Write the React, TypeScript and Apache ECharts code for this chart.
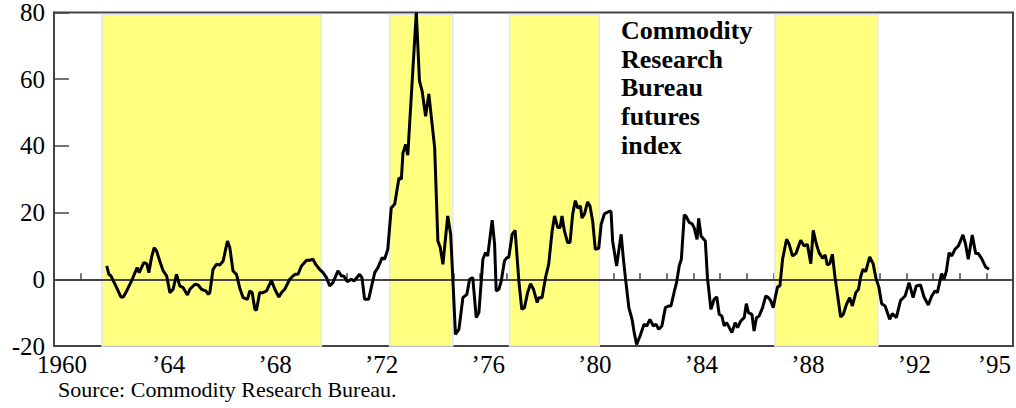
import React, { useEffect, useRef } from "react";
import * as echarts from "echarts";

const dates = [
  1961.98, 1962.06, 1962.14, 1962.22, 1962.35, 1962.51, 1962.6, 1962.73, 1962.91, 1963.04,
  1963.12, 1963.2, 1963.37, 1963.48, 1963.56, 1963.66, 1963.76, 1963.85, 1963.97, 1964.1,
  1964.23, 1964.35, 1964.47, 1964.6, 1964.72, 1964.85, 1965.01, 1965.1, 1965.29, 1965.41,
  1965.54, 1965.7, 1965.79, 1965.85, 1965.97, 1966.1, 1966.22, 1966.35, 1966.51, 1966.6,
  1966.72, 1966.85, 1966.97, 1967.1, 1967.26, 1967.35, 1967.44, 1967.54, 1967.6, 1967.72,
  1967.85, 1967.98, 1968.16, 1968.29, 1968.44, 1968.54, 1968.66, 1968.85, 1968.97, 1969.06,
  1969.16, 1969.29, 1969.48, 1969.6, 1969.72, 1969.82, 1969.97, 1970.1, 1970.23, 1970.35,
  1970.47, 1970.66, 1970.79, 1970.88, 1971.01, 1971.16, 1971.26, 1971.35, 1971.47, 1971.56,
  1971.66, 1971.81, 1971.91, 1972.04, 1972.16, 1972.32, 1972.41, 1972.53, 1972.66, 1972.79,
  1972.95, 1973.04, 1973.1, 1973.2, 1973.28, 1973.6, 1973.72, 1973.82, 1973.95, 1974.07,
  1974.29, 1974.41, 1974.5, 1974.6, 1974.78, 1974.89, 1974.97, 1975.07, 1975.2, 1975.35,
  1975.5, 1975.6, 1975.72, 1975.85, 1975.95, 1976.1, 1976.2, 1976.28, 1976.45, 1976.54,
  1976.6, 1976.7, 1976.79, 1976.91, 1977.0, 1977.07, 1977.2, 1977.31, 1977.45, 1977.56,
  1977.66, 1977.78, 1977.89, 1978.0, 1978.14, 1978.2, 1978.32, 1978.45, 1978.57, 1978.7,
  1978.79, 1978.91, 1979.0, 1979.07, 1979.16, 1979.28, 1979.37, 1979.47, 1979.57, 1979.66,
  1979.76, 1979.82, 1979.91, 1980.03, 1980.12, 1980.22, 1980.32, 1980.45, 1980.54, 1980.66,
  1980.85, 1980.91, 1980.97, 1981.12, 1981.29, 1981.37, 1981.45, 1981.58, 1981.7, 1981.78,
  1981.87, 1982.0, 1982.15, 1982.25, 1982.37, 1982.5, 1982.6, 1982.7, 1982.82, 1982.95,
  1983.07, 1983.16, 1983.29, 1983.37, 1983.47, 1983.55, 1983.66, 1983.72, 1983.85, 1983.95,
  1984.03, 1984.14, 1984.2, 1984.29, 1984.45, 1984.53, 1984.66, 1984.78, 1984.88, 1984.97,
  1985.07, 1985.16, 1985.25, 1985.35, 1985.45, 1985.57, 1985.66, 1985.78, 1985.91, 1985.99,
  1986.07, 1986.2, 1986.28, 1986.37, 1986.47, 1986.6, 1986.72, 1986.82, 1986.91, 1987.0,
  1987.1, 1987.16, 1987.25, 1987.35, 1987.5, 1987.6, 1987.72, 1987.85, 1988.03, 1988.16,
  1988.28, 1988.41, 1988.5, 1988.62, 1988.72, 1988.85, 1988.95, 1989.03, 1989.12, 1989.22,
  1989.32, 1989.41, 1989.53, 1989.63, 1989.75, 1989.87, 1989.97, 1990.1, 1990.2, 1990.28,
  1990.37, 1990.47, 1990.62, 1990.75, 1990.85, 1990.97, 1991.07, 1991.2, 1991.37, 1991.47,
  1991.62, 1991.78, 1991.95, 1992.1, 1992.25, 1992.37, 1992.53, 1992.66, 1992.82, 1992.95,
  1993.07, 1993.16, 1993.32, 1993.41, 1993.5, 1993.6, 1993.7, 1993.82, 1993.95, 1994.12,
  1994.22, 1994.32, 1994.47, 1994.6, 1994.7, 1994.82, 1994.97, 1995.1,
];

const values = [
  4.0, 1.5, 1.0, -0.3, -2.5, -5.3, -5.3, -3.5, -0.5, 2.0,
  3.5, 2.0, 5.0, 4.7, 2.0, 6.5, 9.5, 8.5, 5.5, 2.5,
  1.0, -4.0, -3.0, 1.5, -2.0, -2.5, -4.7, -3.0, -1.5, -1.7,
  -3.0, -3.5, -4.5, -4.0, 3.0, 4.5, 4.3, 5.5, 11.5, 9.5,
  2.5, 1.5, -2.5, -5.5, -6.0, -3.5, -4.0, -9.0, -9.3, -4.0,
  -4.0, -3.5, -0.3, -3.0, -5.3, -4.0, -3.0, 0.0, 1.0, 1.5,
  1.5, 4.0, 5.7, 5.7, 6.0, 4.5, 3.0, 2.0, 0.5, -2.0,
  -1.0, 2.5, 1.0, 1.0, -0.7, 0.0, -0.5, 0.3, 1.5, 0.5,
  -6.0, -6.0, -2.5, 2.0, 3.5, 6.5, 6.0, 9.0, 21.4, 22.6,
  30.4, 30.0, 37.9, 40.4, 37.2, 80.0, 59.4, 56.4, 48.9, 55.6,
  39.4, 11.5, 9.5, 4.5, 19.0, 13.5, 0.5, -16.5, -15.0, -5.5,
  -4.5, 0.0, 0.5, -11.5, -10.0, 6.0, 8.0, 7.0, 17.7, 10.5,
  -3.5, -3.0, -0.5, 5.5, 6.5, 6.5, 13.5, 14.7, -0.5, -9.0,
  -8.5, -4.0, -1.3, -3.0, -7.0, -5.5, -5.5, 0.5, 4.5, 14.5,
  19.0, 15.5, 15.5, 19.0, 14.5, 11.0, 11.0, 19.5, 23.6, 21.4,
  22.0, 18.4, 19.5, 23.2, 22.0, 17.5, 9.0, 9.3, 16.5, 19.6,
  20.4, 20.4, 11.5, 4.0, 13.5, 6.5, 0.5, -8.5, -12.0, -16.0,
  -19.5, -17.0, -13.5, -14.0, -12.0, -14.0, -13.5, -15.0, -14.0, -8.5,
  -8.0, -8.0, -3.5, -1.0, 4.0, 6.0, 19.3, 19.0, 17.0, 16.7,
  15.5, 12.0, 18.3, 13.0, 11.5, 0.5, -9.0, -6.0, -5.3, -10.5,
  -11.0, -14.0, -13.0, -14.5, -16.0, -13.0, -14.5, -12.5, -11.5, -7.3,
  -10.0, -10.5, -15.5, -11.5, -11.0, -8.5, -5.0, -5.5, -6.5, -8.5,
  -4.5, -2.3, -2.0, 6.0, 12.0, 10.5, 7.0, 7.7, 11.7, 10.0,
  10.5, 4.7, 14.7, 10.5, 8.0, 6.3, 7.3, 4.3, 4.7, 7.5,
  0.5, -4.5, -11.3, -10.5, -7.5, -5.5, -8.0, -4.0, -3.0, 0.7,
  3.0, 2.3, 6.7, 4.7, 0.5, -2.5, -7.3, -8.0, -12.0, -10.3,
  -11.5, -6.3, -5.0, -1.0, -5.5, -2.0, -1.7, -5.3, -7.7, -5.0,
  -3.5, -4.0, 1.7, 0.0, 2.5, 8.0, 7.0, 9.0, 10.0, 13.3,
  10.5, 6.0, 13.3, 7.7, 7.7, 6.3, 3.7, 3.0,
];

const bandStarts = [1961.8, 1972.6, 1977.1, 1987.06];
const bandEnds = [1970.04, 1974.97, 1980.47, 1990.93];

const xLabelYears = [1960, 1964, 1968, 1972, 1976, 1980, 1984, 1988, 1992, 1995];
const xLabelTexts = ["1960", "\u201964", "\u201968", "\u201972", "\u201976", "\u201980", "\u201984", "\u201988", "\u201992", "\u201995"];

const annotationLines = ["Commodity", "Research", "Bureau", "futures", "index"];
const sourceText = "Source: Commodity Research Bureau.";

const SERIF = "Liberation Serif";

export default function App() {
  const ref = useRef<HTMLDivElement>(null);
  useEffect(() => {
    if (!ref.current) return;
    const chart = echarts.init(ref.current, undefined, { renderer: "svg" });
    const labelMap: Record<number, string> = {};
    xLabelYears.forEach((y, i) => (labelMap[y] = xLabelTexts[i]));
    const lineData = dates.map((d, i) => [d, values[i]]);
    chart.setOption({
      animation: false,
      backgroundColor: "#ffffff",
      textStyle: { fontFamily: SERIF },
      grid: {
        left: 54,
        right: 3,
        top: 11,
        bottom: 62,
        show: true,
        borderColor: "#444444",
        borderWidth: 2,
        backgroundColor: "transparent",
      },
      xAxis: {
        type: "value",
        min: 1960,
        max: 1996,
        interval: 1,
        axisLine: { show: true, lineStyle: { color: "#444444", width: 2 } },
        axisTick: { show: true, inside: true, length: 6, lineStyle: { color: "#444444", width: 1.5 } },
        splitLine: { show: false },
        axisLabel: {
          color: "#000000",
          fontFamily: SERIF,
          fontSize: 25,
          margin: 6,
          padding: [0, 0, 0, 16],
          showMinLabel: true,
          formatter: (v: number) => labelMap[Math.round(v)] || "",
        },
      },
      yAxis: {
        type: "value",
        min: -20,
        max: 80,
        interval: 20,
        axisLine: { show: true, lineStyle: { color: "#444444", width: 2 } },
        axisTick: { show: true, inside: true, length: 15, lineStyle: { color: "#444444", width: 1.5 } },
        splitLine: { show: false },
        axisLabel: {
          color: "#000000",
          fontFamily: SERIF,
          fontSize: 25,
          margin: 9,
        },
      },
      series: [
        {
          type: "line",
          data: [],
          silent: true,
          markArea: {
            silent: true,
            itemStyle: { color: "#FFFF80", borderColor: "#E2E4F4", borderWidth: 1.5 },
            data: bandStarts.map((s, i) => [
              { xAxis: s, yAxis: -20 },
              { xAxis: bandEnds[i], yAxis: 79.4 },
            ]),
          },
          markLine: {
            silent: true,
            symbol: "none",
            label: { show: false },
            lineStyle: { color: "#444444", width: 2, type: "solid" },
            data: [{ yAxis: 0 }],
          },
        },
        {
          type: "line",
          data: lineData,
          showSymbol: false,
          smooth: false,
          z: 5,
          lineStyle: { color: "#000000", width: 3 },
        },
      ],
      graphic: [
        {
          type: "text",
          left: 621,
          top: 16,
          z: 10,
          style: {
            text: annotationLines.join("\n"),
            fontFamily: SERIF,
            fontWeight: "bold",
            fontSize: 26,
            lineHeight: 28.7,
            fill: "#000000",
          },
        },
        {
          type: "text",
          left: 58,
          top: 378,
          style: {
            text: sourceText,
            fontFamily: SERIF,
            fontSize: 22,
            fill: "#000000",
          },
        },
      ],
    });
    return () => chart.dispose();
  }, []);
  return <div ref={ref} style={{ width: 1016, height: 408, position: "absolute", left: 0, top: 0 }} />;
}
